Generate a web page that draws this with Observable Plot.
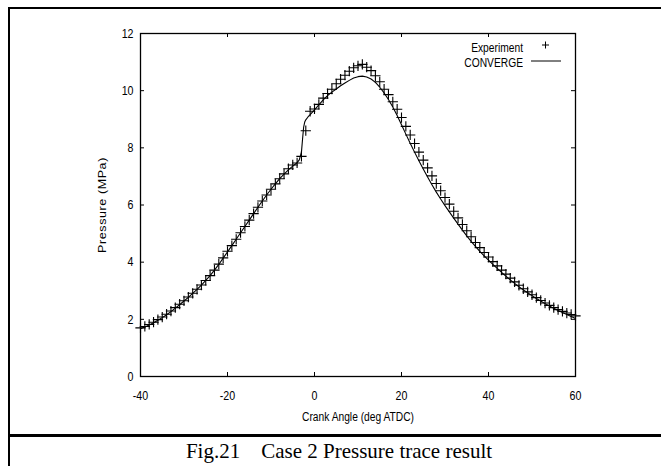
<!DOCTYPE html>
<html><head><meta charset="utf-8">
<script src="https://cdn.jsdelivr.net/npm/d3@7"></script>
<script src="https://cdn.jsdelivr.net/npm/@observablehq/plot@0.6"></script>
<style>
body{margin:0;background:#fff;width:661px;height:466px;overflow:hidden;position:relative;}
#chart{position:absolute;left:0;top:0;}
.frame{position:absolute;left:8px;top:7px;width:700px;height:500px;border-left:2px solid #000;border-top:2px solid #000;box-sizing:border-box;}
.sep{position:absolute;left:8px;top:434px;width:660px;height:3px;background:#000;}
.caption{position:absolute;left:9px;width:660px;top:439px;text-align:center;font-family:"Liberation Serif","Times New Roman",serif;font-size:21px;white-space:pre;color:#000;}
.leg{position:absolute;font-family:"Liberation Sans",Arial,sans-serif;font-size:12.5px;color:#000;text-align:right;width:120px;line-height:14px;transform:scaleX(0.82);transform-origin:right center;}
</style></head><body>
<div id="chart"></div>
<div class="frame"></div>
<div class="sep"></div>
<div class="caption">Fig.21    Case 2 Pressure trace result</div>
<div class="leg" style="left:403px;top:41px;">Experiment</div>
<div class="leg" style="left:403px;top:56px;">CONVERGE</div>
<svg style="position:absolute;left:0;top:0;" width="661" height="80">
  <path d="M542,45H549M545.5,41.5V48.5" stroke="#000" stroke-width="1"/>
  <path d="M531,61H561" stroke="#000" stroke-width="1"/>
</svg>
<script>
const expAngle = d3.range(-40, 61);
const expPressure = [
 1.70,1.75,1.82,1.90,1.99,2.08,2.18,2.29,2.41,2.53,
 2.65,2.78,2.91,3.05,3.20,3.36,3.53,3.72,3.93,4.15,
 4.38,4.58,4.80,5.03,5.25,5.47,5.70,5.92,6.14,6.35,
 6.55,6.74,6.92,7.09,7.27,7.40,7.47,7.70,8.60,9.28,
 9.36,9.52,9.74,9.90,10.05,10.24,10.40,10.54,10.68,10.80,
 10.87,10.92,10.82,10.70,10.52,10.31,10.05,9.86,9.61,9.35,
 9.06,8.75,8.45,8.15,7.85,7.57,7.30,7.02,6.75,6.50,
 6.26,6.03,5.78,5.55,5.32,5.10,4.89,4.69,4.51,4.34,
 4.18,4.02,3.87,3.72,3.58,3.44,3.31,3.19,3.07,2.96,
 2.86,2.76,2.66,2.57,2.49,2.41,2.34,2.28,2.22,2.17,
 2.12];
const simAngle = [
 -40,-39,-38,-37,-36,-35,-34,-33,-32,-31,-30,-29,-28,-27,-26,-25,-24,-23,-22,-21,
 -20,-19,-18,-17,-16,-15,-14,-13,-12,-11,-10,-9,-8,-7,-6,-5,-4,-3.5,-3,-2.75,
 -2.5,-2.25,-2,-1.5,-1,0,1,2,3,4,5,6,7,8,9,10,11,12,13,14,
 15,16,17,18,19,20,21,22,23,24,25,26,27,28,29,30,31,32,33,34,
 35,36,37,38,39,40,41,42,43,44,45,46,47,48,49,50,51,52,53,54,
 55,56,57,58,59,60];
const simPressure = [
 1.67,1.73,1.80,1.88,1.97,2.06,2.16,2.27,2.39,2.51,2.64,2.77,2.91,3.05,3.20,3.36,3.53,3.72,3.92,4.14,
 4.36,4.58,4.80,5.03,5.25,5.47,5.70,5.92,6.14,6.35,6.55,6.74,6.92,7.08,7.23,7.36,7.48,7.58,7.85,8.30,
 8.72,8.90,8.98,9.08,9.16,9.33,9.50,9.68,9.83,9.95,10.06,10.17,10.27,10.36,10.44,10.49,10.51,10.48,10.41,10.29,
 10.12,9.92,9.69,9.43,9.13,8.81,8.48,8.16,7.85,7.55,7.26,6.98,6.71,6.45,6.21,5.98,5.76,5.54,5.33,5.12,
 4.92,4.73,4.55,4.38,4.22,4.07,3.92,3.78,3.64,3.51,3.38,3.26,3.14,3.03,2.93,2.83,2.73,2.64,2.55,2.47,
 2.39,2.31,2.24,2.17,2.10,2.03];
const xTicks = [-40, -20, 0, 20, 40, 60];
const yTicks = [0, 2, 4, 6, 8, 10, 12];
const xLabel = "Crank Angle (deg ATDC)";
const yLabel = "Pressure (MPa)";

const expData = expAngle.map((a, i) => ({angle: a, p: expPressure[i]}));
const simData = simAngle.map((a, i) => ({angle: a, p: simPressure[i]}));

const W = 661, H = 435, mL = 140, mR = 86, mT = 33, mB = 59;
const iw = W - mL - mR, ih = H - mT - mB;
const sans = "'Liberation Sans',Arial,sans-serif";

const chart = Plot.plot({
  width: W, height: H,
  marginLeft: mL, marginRight: mR, marginTop: mT, marginBottom: mB,
  style: {fontFamily: sans, fontSize: "13px", color: "#000", background: "transparent"},
  x: {domain: [-40, 60]},
  y: {domain: [0, 12]},
  marks: [
    Plot.axisX({ticks: xTicks, tickFormat: d => `${d}`, tickSize: 0, tickPadding: 14, label: null, fontSize: 13}),
    Plot.axisY({ticks: yTicks, tickFormat: d => `${d}`, tickSize: 0, tickPadding: 7, label: null, fontSize: 13}),
    Plot.tickX(xTicks, {x: d => d, insetTop: ih - 4, stroke: "#000", strokeWidth: 1}),
    Plot.tickX(xTicks, {x: d => d, insetBottom: ih - 4, stroke: "#000", strokeWidth: 1}),
    Plot.tickY(yTicks, {y: d => d, insetRight: iw - 4, stroke: "#000", strokeWidth: 1}),
    Plot.tickY(yTicks, {y: d => d, insetLeft: iw - 4, stroke: "#000", strokeWidth: 1}),
    Plot.line(simData, {x: "angle", y: "p", stroke: "#000", strokeWidth: 1.1}),
    Plot.dot(expData, {x: "angle", y: "p", symbol: "plus", r: 3.4, stroke: "#000", strokeWidth: 1.1}),
    Plot.frame({stroke: "#000", strokeWidth: 1.3}),
    Plot.text([xLabel], {frameAnchor: "bottom", dy: 44, fontSize: 12.5}),
    Plot.text([yLabel], {frameAnchor: "left", textAnchor: "middle", dx: -38, rotate: -90, fontSize: 12.5})
  ]
});
document.getElementById("chart").appendChild(chart);

// condense text horizontally (in screen space) like the reference's narrow lettering
function squeeze(t, k) {
  const r = t.getBoundingClientRect();
  const anchor = getComputedStyle(t).textAnchor;
  const rotated = (t.getAttribute("transform") || "").includes("rotate");
  let px;
  if (rotated || anchor === "middle") px = (r.left + r.right) / 2;
  else if (anchor === "end") px = r.right;
  else px = r.left;
  const pt = chart.createSVGPoint();
  pt.x = px; pt.y = r.top;
  const m = t.parentNode.getScreenCTM().inverse();
  const lp = pt.matrixTransform(m);
  const g = document.createElementNS("http://www.w3.org/2000/svg", "g");
  g.setAttribute("transform", `translate(${lp.x},0) scale(${k},1) translate(${-lp.x},0)`);
  t.parentNode.insertBefore(g, t);
  g.appendChild(t);
}
const texts = Array.from(chart.querySelectorAll("text"));
texts.forEach(t => { if (t.textContent === yLabel) t.style.letterSpacing = "0.6px"; });
texts.forEach(t => squeeze(t, 0.82));
</script>
</body></html>
